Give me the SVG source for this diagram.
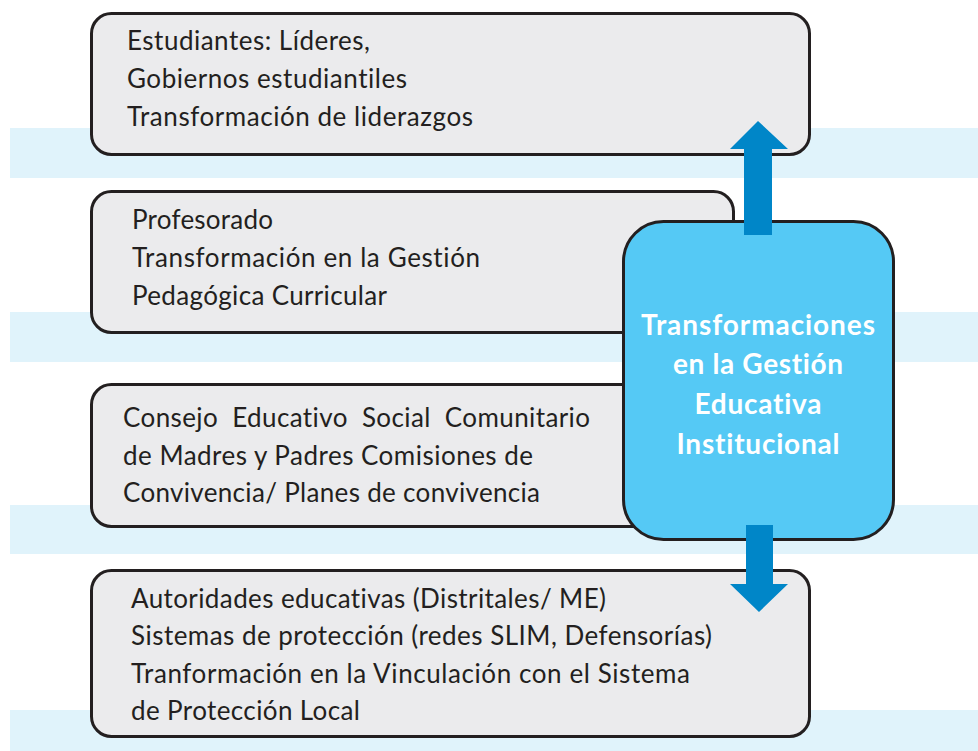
<svg xmlns="http://www.w3.org/2000/svg" width="978" height="751" viewBox="0 0 978 751">
<style>
.band{fill:#e0f3fb}
.box{fill:#ebebed;stroke:#231f20;stroke-width:3}
.center{fill:#55c9f5;stroke:#231f20;stroke-width:3}
.t{font-family:Lato,"Open Sans","Liberation Sans",sans-serif;font-size:26px;fill:#231f20;font-variant-ligatures:none}
.ct{font-family:Lato,"Open Sans","Liberation Sans",sans-serif;font-size:28px;font-weight:bold;fill:#ffffff;text-anchor:middle;font-variant-ligatures:none}
.arrow{fill:#0086c8}
</style>
<g id="bands">
<rect class="band" x="10" y="128" width="968" height="50"/>
<rect class="band" x="10" y="312" width="968" height="50"/>
<rect class="band" x="10" y="505" width="968" height="49"/>
<rect class="band" x="10" y="710" width="968" height="41"/>
</g>
<g id="node-estudiantes">
<rect class="box" x="91.5" y="13.5" width="718" height="141" rx="20"/>
<text class="t" x="127" y="50" textLength="243">Estudiantes: Líderes,</text>
<text class="t" x="127" y="88" textLength="280">Gobiernos estudiantiles</text>
<text class="t" x="127" y="126" textLength="346">Transformación de liderazgos</text>
</g>
<g id="node-profesorado">
<rect class="box" x="91.5" y="191.5" width="642" height="141" rx="20"/>
<text class="t" x="132" y="229" textLength="141">Profesorado</text>
<text class="t" x="132" y="267" textLength="348">Transformación en la Gestión</text>
<text class="t" x="132" y="305" textLength="255">Pedagógica Curricular</text>
</g>
<g id="node-consejo">
<rect class="box" x="91.5" y="384.5" width="642" height="142" rx="20"/>
<text class="t" x="123" y="427" textLength="467" xml:space="preserve">Consejo  Educativo  Social  Comunitario</text>
<text class="t" x="123" y="465" textLength="410">de Madres y Padres Comisiones de</text>
<text class="t" x="123" y="502" textLength="417">Convivencia/ Planes de convivencia</text>
</g>
<g id="node-autoridades">
<rect class="box" x="91.5" y="570.5" width="718" height="166" rx="20"/>
<text class="t" x="131" y="608" textLength="475">Autoridades educativas (Distritales/ ME)</text>
<text class="t" x="131" y="645" textLength="581">Sistemas de protección (redes SLIM, Defensorías)</text>
<text class="t" x="131" y="683" textLength="559">Tranformación en la Vinculación con el Sistema</text>
<text class="t" x="131" y="720" textLength="229">de Protección Local</text>
</g>
<g id="node-center">
<rect class="center" x="623.5" y="221.5" width="270" height="318" rx="40"/>
<text class="ct" x="758" y="335" textLength="234">Transformaciones</text>
<text class="ct" x="758" y="374" textLength="170">en la Gestión</text>
<text class="ct" x="758" y="414" textLength="127">Educativa</text>
<text class="ct" x="758" y="454" textLength="163">Institucional</text>
</g>
<g id="connectors">
<polygon class="arrow" points="744,235 744,149 730,149 758,121 788,149 772,149 772,235"/>
<polygon class="arrow" points="746,525 773,525 773,584 788,584 759,612 730,584 746,584"/>
</g>
</svg>
